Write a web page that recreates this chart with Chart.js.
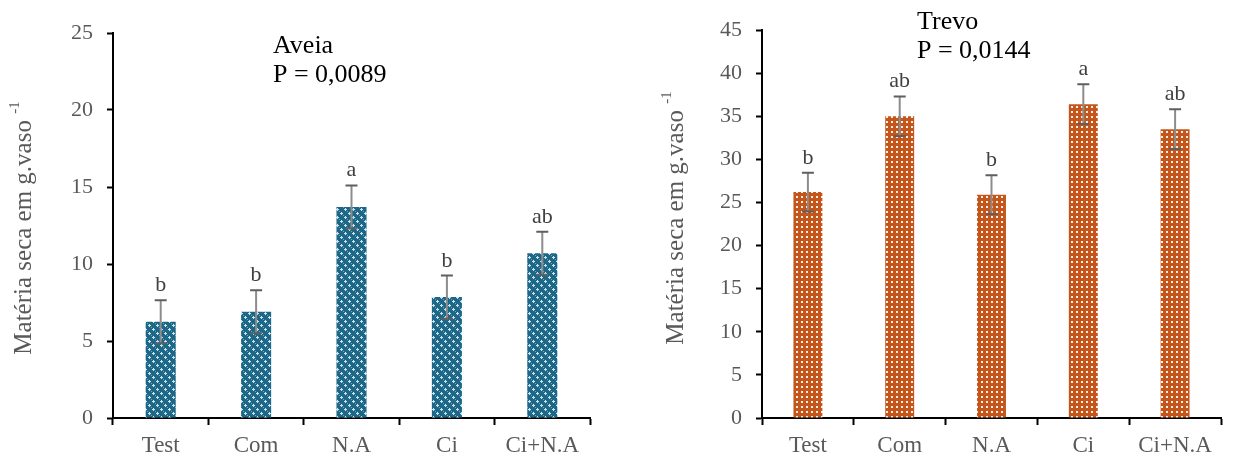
<!DOCTYPE html>
<html>
<head>
<meta charset="utf-8">
<script src="https://cdn.jsdelivr.net/npm/chart.js@4.4.1/dist/chart.umd.min.js"></script>
<style>
  html, body { margin: 0; padding: 0; background: #fff; }
  .box { position: absolute; top: 0; height: 457px; }
  #leftBox { left: 0; width: 610px; }
  #rightBox { left: 620px; width: 615px; }
</style>
</head>
<body>
<div class="box" id="leftBox"><canvas id="aveiaChart"></canvas></div>
<div class="box" id="rightBox"><canvas id="trevoChart"></canvas></div>
<script>
// Data
const categories = ['Test', 'Com', 'N.A', 'Ci', 'Ci+N.A'];

const aveiaValues = [6.25, 6.9, 13.7, 7.85, 10.7];
const aveiaErrors = [1.4, 1.4, 1.4, 1.4, 1.4];
const aveiaLetters = ['b', 'b', 'a', 'b', 'ab'];

const trevoValues = [26.2, 35.0, 25.9, 36.4, 33.5];
const trevoErrors = [2.25, 2.3, 2.25, 2.3, 2.3];
const trevoLetters = ['b', 'ab', 'b', 'a', 'ab'];

const aveiaTicks = [0, 5, 10, 15, 20, 25];
const trevoTicks = [0, 5, 10, 15, 20, 25, 30, 35, 40, 45];

const serif = "'Liberation Serif', 'Times New Roman', serif";

// Bar fill patterns
function tealPattern() {
  const c = document.createElement('canvas');
  c.width = 8; c.height = 8;
  const g = c.getContext('2d');
  g.fillStyle = '#1d6889';
  g.fillRect(0, 0, 8, 8);
  g.fillStyle = '#cfe3ea';
  // light plus shapes on a diagonal lattice
  [[1, 1], [5, 5]].forEach(([x, y]) => {
    g.fillRect(x, y - 1, 1, 3);
    g.fillRect(x - 1, y, 3, 1);
  });
  g.fillStyle = '#6fa3b8';
  g.fillRect(3, 3, 1, 1);
  g.fillRect(7, 7, 1, 1);
  return g.createPattern(c, 'repeat');
}

function orangePattern() {
  const c = document.createElement('canvas');
  c.width = 5; c.height = 5;
  const g = c.getContext('2d');
  g.fillStyle = '#c5561b';
  g.fillRect(0, 0, 5, 5);
  g.fillStyle = '#fbeee6';
  g.fillRect(1, 1, 2, 2);
  return g.createPattern(c, 'repeat');
}

// Error bars, significance letters, annotation and y title
const extrasPlugin = {
  id: 'extras',
  afterDatasetsDraw(chart, args, opts) {
    const ctx = chart.ctx;
    const yScale = chart.scales.y;
    const bars = chart.getDatasetMeta(0).data;
    const values = chart.data.datasets[0].data;
    ctx.save();
    bars.forEach((bar, i) => {
      const x = bar.x;
      const top = yScale.getPixelForValue(values[i] + opts.errors[i]);
      const bot = yScale.getPixelForValue(values[i] - opts.errors[i]);
      ctx.strokeStyle = '#8c8c8c';
      ctx.lineWidth = 2;
      ctx.beginPath();
      ctx.moveTo(x, top);
      ctx.lineTo(x, bot);
      ctx.stroke();
      ctx.strokeStyle = '#5f5f5f';
      ctx.beginPath();
      ctx.moveTo(x - 6, top);
      ctx.lineTo(x + 6, top);
      ctx.moveTo(x - 6, bot);
      ctx.lineTo(x + 6, bot);
      ctx.stroke();
      ctx.fillStyle = '#404040';
      ctx.font = '22px ' + serif;
      ctx.textAlign = 'center';
      ctx.textBaseline = 'alphabetic';
      ctx.fillText(opts.letters[i], x, top - 9);
    });

    // annotation
    ctx.fillStyle = '#000';
    ctx.font = '26px ' + serif;
    ctx.textAlign = 'left';
    ctx.textBaseline = 'middle';
    ctx.fillText(opts.name, opts.noteX, opts.noteY);
    ctx.fillText(opts.pText, opts.noteX, opts.noteY + 29);

    // y axis title with superscript
    ctx.translate(opts.titleX, opts.titleY);
    ctx.rotate(-Math.PI / 2);
    ctx.fillStyle = '#595959';
    ctx.textBaseline = 'middle';
    const main = 'Matéria seca em g.vaso ';
    ctx.font = '25px ' + serif;
    const wMain = ctx.measureText(main).width;
    ctx.font = '15px ' + serif;
    const wSup = ctx.measureText('-1').width;
    const start = -(wMain + wSup) / 2;
    ctx.font = '25px ' + serif;
    ctx.fillText(main, start, 0);
    ctx.font = '15px ' + serif;
    ctx.fillText('-1', start + wMain, -9);
    ctx.restore();
  }
};

function makeChart(id, values, fill, ticks, max, yWidth, padRight, padTop, extras) {
  return new Chart(document.getElementById(id), {
    type: 'bar',
    data: {
      labels: categories,
      datasets: [{
        data: values,
        backgroundColor: fill,
        borderWidth: 0,
        barPercentage: 0.315,
        categoryPercentage: 1.0
      }]
    },
    options: {
      responsive: true,
      maintainAspectRatio: false,
      animation: false,
      events: [],
      layout: { padding: { top: padTop, right: padRight, bottom: 0, left: 0 } },
      plugins: {
        legend: { display: false },
        tooltip: { enabled: false },
        extras: extras
      },
      scales: {
        x: {
          grid: {
            offset: true,
            drawOnChartArea: false,
            drawTicks: true,
            tickLength: 7,
            tickWidth: 2,
            tickColor: '#000'
          },
          border: { color: '#000', width: 2 },
          ticks: {
            color: '#595959',
            font: { family: serif, size: 23 },
            padding: 7,
            maxRotation: 0
          },
          afterFit(scale) { scale.height = 39; }
        },
        y: {
          min: 0,
          max: max,
          afterBuildTicks(scale) { scale.ticks = ticks.map(v => ({ value: v })); },
          grid: {
            drawOnChartArea: false,
            drawTicks: true,
            tickLength: 6,
            tickWidth: 2,
            tickColor: '#000'
          },
          border: { color: '#000', width: 2 },
          ticks: {
            color: '#595959',
            font: { family: serif, size: 22 },
            padding: 14
          },
          afterFit(scale) { scale.width = yWidth; }
        }
      }
    },
    plugins: [extrasPlugin]
  });
}

makeChart('aveiaChart', aveiaValues, tealPattern(), aveiaTicks, 25, 113, 20, 33, {
  errors: aveiaErrors, letters: aveiaLetters,
  name: 'Aveia', pText: 'P = 0,0089', noteX: 273, noteY: 46,
  titleX: 24, titleY: 228
});

makeChart('trevoChart', trevoValues, orangePattern(), trevoTicks, 45, 142, 14, 30, {
  errors: trevoErrors, letters: trevoLetters,
  name: 'Trevo', pText: 'P = 0,0144', noteX: 297, noteY: 22,
  titleX: 56, titleY: 218
});
</script>
</body>
</html>
